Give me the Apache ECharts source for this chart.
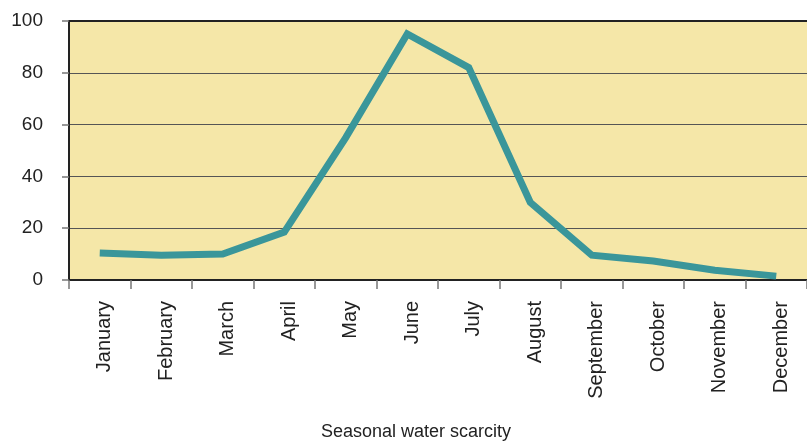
<!DOCTYPE html>
<html><head><meta charset="utf-8">
<script src="https://cdn.jsdelivr.net/npm/echarts@6/dist/echarts.min.js"></script>
<style>html,body{margin:0;padding:0;background:#fff}#c{width:807px;height:441px}</style>
</head><body><div id="c"></div>
<script>
const months = ['January','February','March','April','May','June','July','August','September','October','November','December'];
const scarcity = [10.4, 9.6, 10, 18.5, 55, 95, 82, 30, 9.6, 7.3, 3.8, 1.5];
const yTicks = [0, 20, 40, 60, 80, 100];
const axisTitle = 'Seasonal water scarcity';

const chart = echarts.init(document.getElementById('c'), null, {renderer:'canvas'});
chart.setOption({
  animation:false,
  textStyle:{fontFamily:'Liberation Sans, Arial, sans-serif'},
  grid:{left:69, right:0, top:21, bottom:161, show:true, backgroundColor:'#f5e7a8', borderWidth:0,
        containLabel:false, outerBoundsMode:'none'},
  xAxis:[{
    type:'category', data:months, boundaryGap:true,
    axisLine:{lineStyle:{color:'#222', width:2}},
    axisTick:{show:true, alignWithLabel:false, length:9, lineStyle:{color:'#777', width:1.5}},
    axisLabel:{rotate:90, fontSize:20, color:'#222', margin:21, interval:0,
               verticalAlign:'top', lineHeight:10},
    name:axisTitle, nameLocation:'middle', nameGap:143,
    nameTextStyle:{fontSize:18, color:'#222', padding:[0,44,0,0]}
  },{
    type:'category', data:months, position:'top',
    axisLine:{show:true, lineStyle:{color:'#222', width:2}},
    axisTick:{show:false}, axisLabel:{show:false}
  }],
  yAxis:{
    type:'value', min:0, max:100, interval:20,
    axisLine:{show:true, lineStyle:{color:'#222', width:2}},
    axisTick:{show:true, length:7, lineStyle:{color:'#777', width:1.5}},
    axisLabel:{fontSize:19, color:'#222', margin:26,
      formatter:v => yTicks.includes(v) ? String(v) : ''},
    splitLine:{show:true, lineStyle:{color:'#555', width:1}}
  },
  series:[{
    type:'line', data:scarcity, symbol:'none',
    lineStyle:{color:'#3a969a', width:7, cap:'butt', join:'miter'}
  }]
});
</script></body></html>
